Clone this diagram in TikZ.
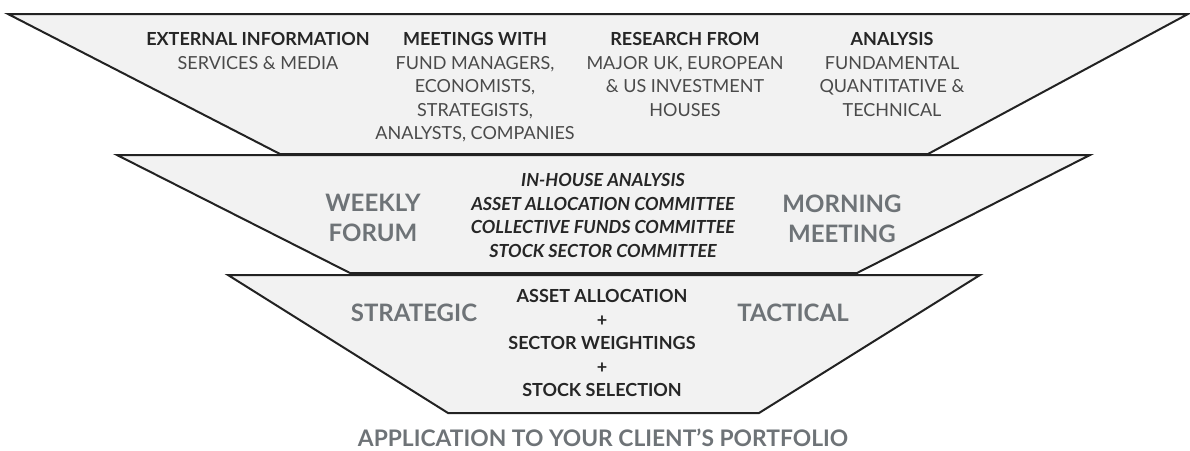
\documentclass[tikz,border=0pt]{standalone}
\usepackage{fontspec}
\setmainfont{Lato}
\usetikzlibrary{positioning}

\definecolor{panelfill}{HTML}{F2F2F2}
\definecolor{edge}{HTML}{222222}
\definecolor{headtext}{HTML}{262626}
\definecolor{bodytext}{HTML}{4A4A4A}
\definecolor{sidegray}{HTML}{6E7377}

\newcommand\colhead[1]{{\bfseries\color{headtext}#1}}

\begin{document}
\begin{tikzpicture}[
    x=1pt, y=-1pt,
    tier/.style={fill=panelfill, draw=edge, line width=2pt, line join=miter},
    source/.style={align=center, anchor=north, inner sep=0pt, text=bodytext, font=\fontsize{18}{23.5}\selectfont},
    committee/.style={align=center, anchor=north, inner sep=0pt, text=headtext, font=\fontsize{18}{23.5}\selectfont\bfseries\itshape},
    decision/.style={align=center, anchor=north, inner sep=0pt, text=headtext, font=\fontsize{18}{23.5}\selectfont\bfseries},
    side/.style={align=center, inner sep=0pt, text=sidegray, font=\fontsize{24}{30}\selectfont\bfseries},
]
\useasboundingbox (0,0) rectangle (1190,450);

% Funnel tiers
\draw[tier] (8,14) -- (1188,14) -- (928,154) -- (280,154) -- cycle;
\draw[tier] (117,155) -- (1090,155) -- (857,273) -- (350,273) -- cycle;
\draw[tier] (228,275) -- (980,275) -- (759,413) -- (448,413) -- cycle;

% Top tier: sources
\node[source] (extinfo) at (258,32.5) {\colhead{EXTERNAL INFORMATION}\\SERVICES \& MEDIA};
\node[source] (meetings) at (475,32.5) {\colhead{MEETINGS WITH}\\FUND MANAGERS,\\ECONOMISTS,\\STRATEGISTS,\\ANALYSTS, COMPANIES};
\node[source] (research) at (685,32.5) {\colhead{RESEARCH FROM}\\MAJOR UK, EUROPEAN\\\& US INVESTMENT\\HOUSES};
\node[source] (analysis) at (892,32.5) {\colhead{ANALYSIS}\\FUNDAMENTAL\\QUANTITATIVE \&\\TECHNICAL};

% Middle tier: committees
\node[committee] (inhouse) at (603,173.5) {IN-HOUSE ANALYSIS\\ASSET ALLOCATION COMMITTEE\\COLLECTIVE FUNDS COMMITTEE\\STOCK SECTOR COMMITTEE};
\node[side] (weekly) at (373,218) {WEEKLY\\FORUM};
\node[side] (morning) at (842,219) {MORNING\\MEETING};

% Bottom tier: decisions
\node[decision] (choices) at (602,289.5) {ASSET ALLOCATION\\+\\SECTOR WEIGHTINGS\\+\\STOCK SELECTION};
\node[side] (strategic) at (414,313) {STRATEGIC};
\node[side] (tactical) at (793,313) {TACTICAL};

% Outcome
\node[side, font=\fontsize{22.8}{28}\selectfont\bfseries] (portfolio) at (603,438) {APPLICATION TO YOUR CLIENT’S PORTFOLIO};

\end{tikzpicture}
\end{document}
